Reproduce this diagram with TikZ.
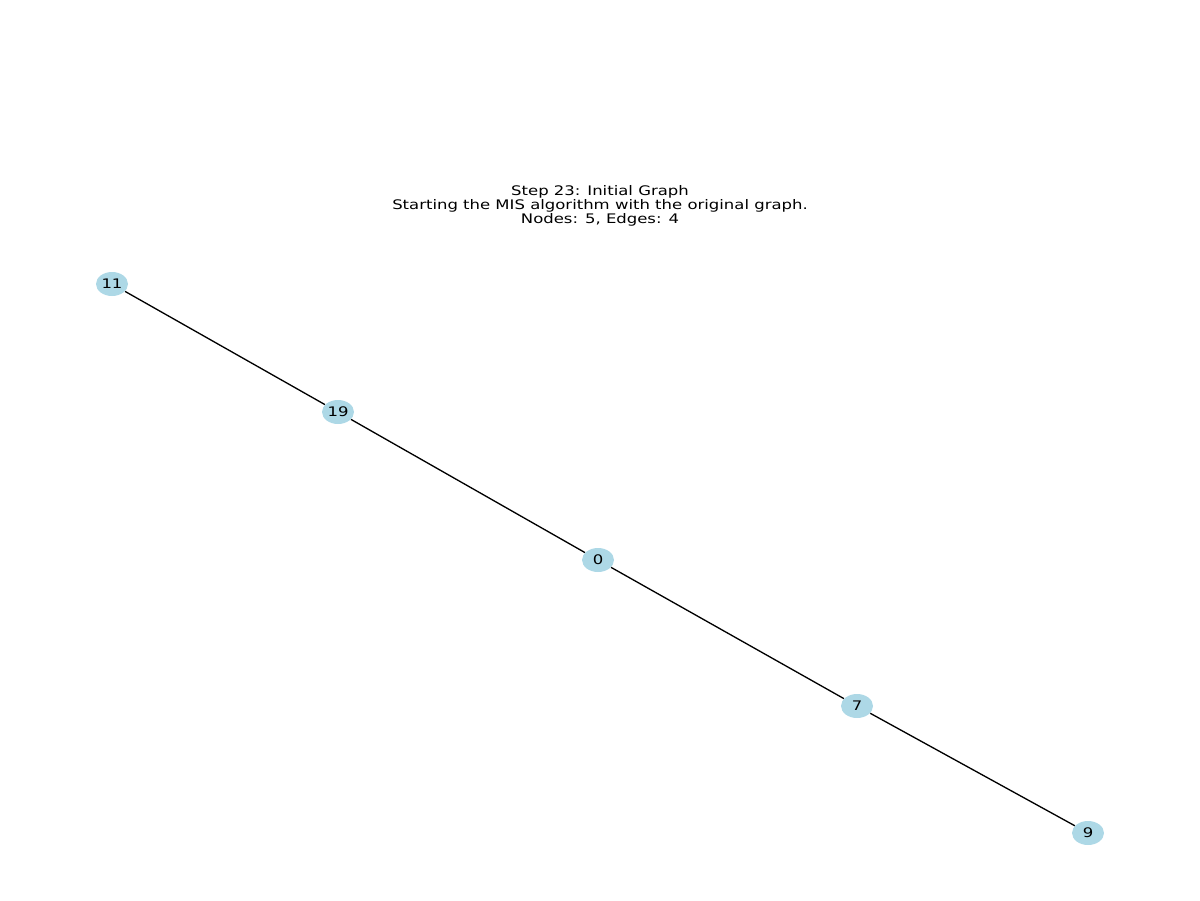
\documentclass[tikz,border=0pt]{standalone}
\usepackage{fontspec}
\setmainfont{DejaVu Sans}[FakeStretch=1.25]
\usetikzlibrary{shapes.geometric}
\definecolor{lightblue}{RGB}{173,216,230}
\begin{document}
\begin{tikzpicture}
[vnode/.style={ellipse,fill=lightblue,inner sep=0pt,minimum width=6.4mm,minimum height=4.8mm,font=\fontsize{7.5}{8}\selectfont}]
\useasboundingbox (0,0) rectangle (24,18);
\node (title) at (12,13.88) [align=center,font=\fontsize{7.5}{8}\selectfont] {Step 23: Initial Graph\\Starting the MIS algorithm with the original graph.\\Nodes: 5, Edges: 4};
\node (n11) at ( 2.24,12.32) [vnode] {11};
\node (n19) at ( 6.76, 9.76) [vnode] {19};
\node (n0)  at (11.96, 6.80) [vnode] {0};
\node (n7)  at (17.14, 3.88) [vnode] {7};
\node (n9)  at (21.76, 1.34) [vnode] {9};

\foreach \from/\to in {n11/n19, n19/n0, n0/n7, n7/n9}
	\draw [line width=0.75pt]  (\from) -- (\to);

\end{tikzpicture}
\end{document}
